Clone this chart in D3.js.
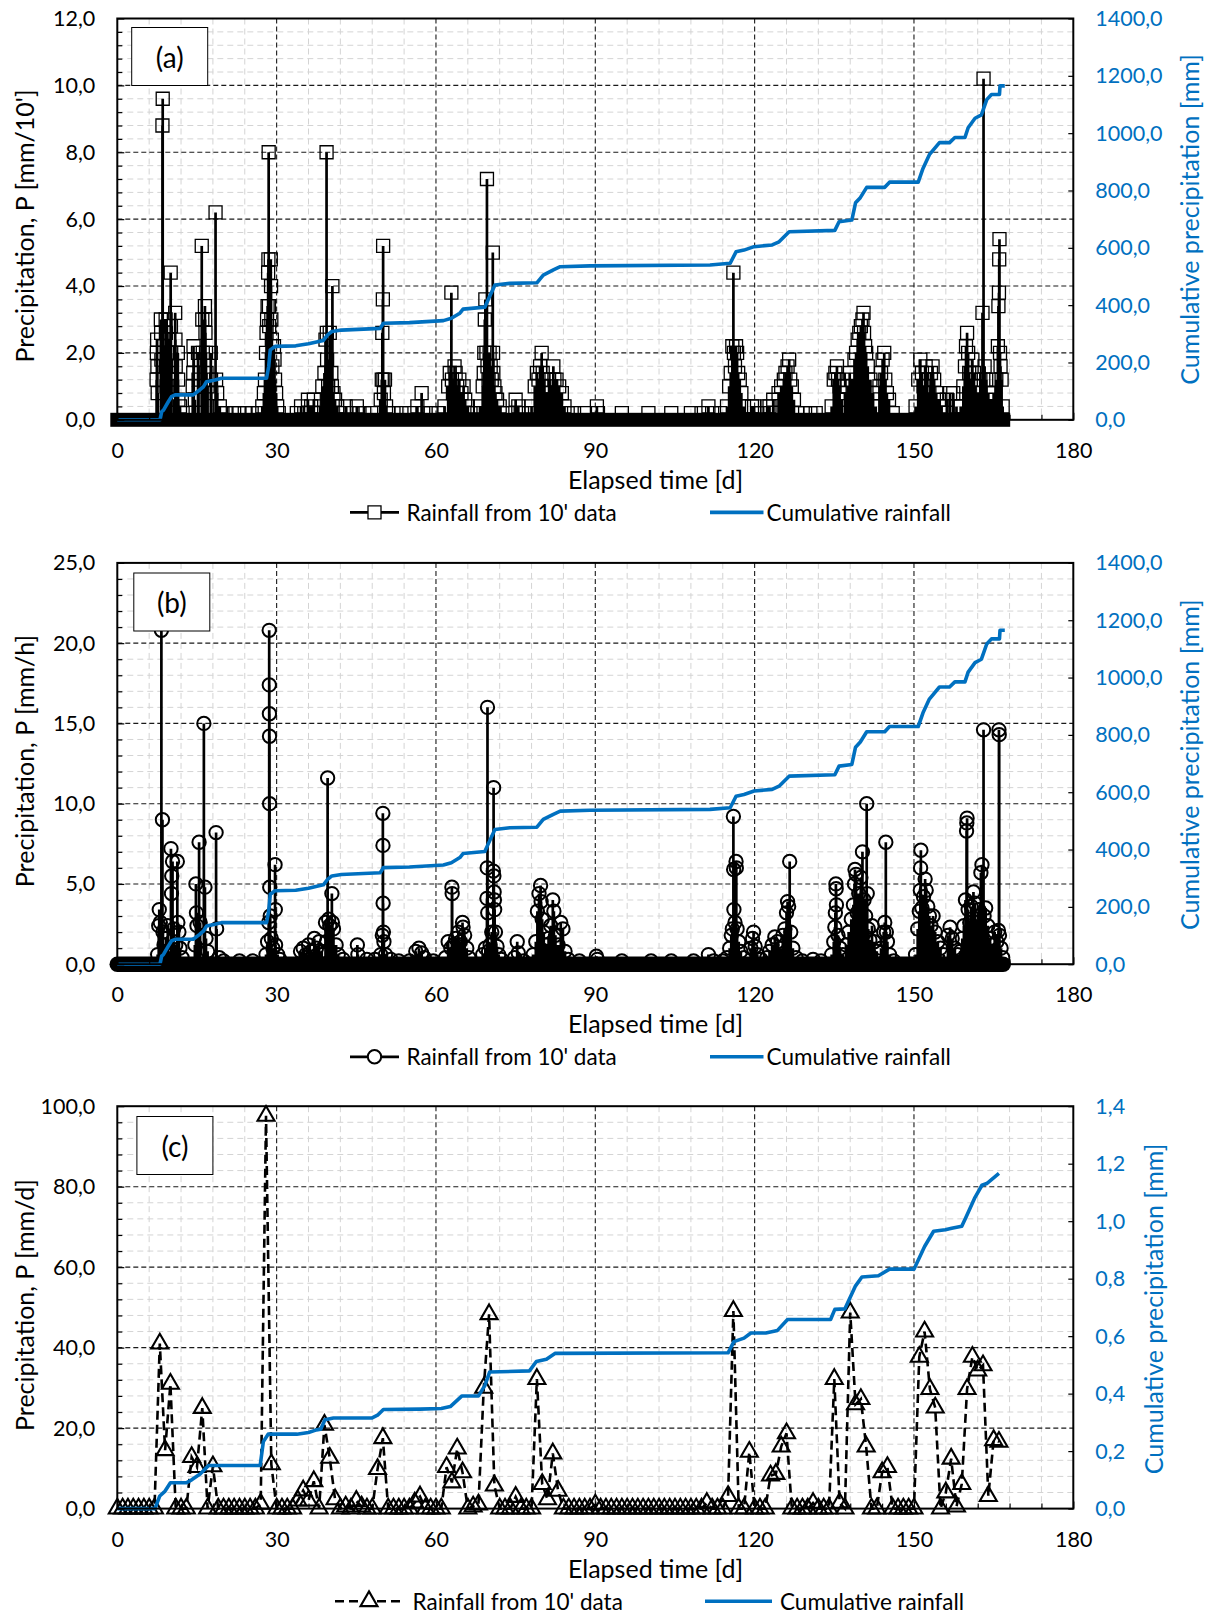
<!DOCTYPE html>
<html><head><meta charset="utf-8">
<script src="https://cdn.jsdelivr.net/npm/d3@7"></script>
<style>
body{margin:0;background:#fff;}
svg text{font-family:Lato,'Open Sans',sans-serif;fill:#000;}
</style></head><body>
<script>
// ---------------- DATA ----------------
const xTicks = [0, 30, 60, 90, 120, 150, 180];
const xTitle = "Elapsed time [d]";
const panelLabels = ["(a)", "(b)", "(c)"];
const leftTitles = ["Precipitation, P [mm/10']", "Precipitation, P [mm/h]", "Precipitation, P [mm/d]"];
const rightTitle = "Cumulative precipitation [mm]";
const seriesNames = ["Rainfall from 10' data", "Cumulative rainfall"];
const leftTicksA = [0, 2, 4, 6, 8, 10, 12];
const leftTicksB = [0, 5, 10, 15, 20, 25];
const leftTicksC = [0, 20, 40, 60, 80, 100];
const rightTicksAB = [0, 200, 400, 600, 800, 1000, 1200, 1400];
const rightTicksC = [0, 0.2, 0.4, 0.6, 0.8, 1.0, 1.2, 1.4];
// span of the 10-minute record [day]; every reading with zero rain sits on the baseline
const recordSpan = [0, 166.8];

// (a) non-zero 10-minute readings [day, mm/10']
const rain10min = [
[7.4,1.2],[7.45,2.0],[7.5,2.4],[7.55,1.6],[7.6,0.8],[8.2,3.0],[8.25,2.6],[8.3,1.8],[8.5,8.8],[8.55,9.6],[8.6,2.2],
[9.1,3.0],[9.15,2.6],[9.2,1.6],[9.3,1.0],[9.35,2.0],[9.6,2.4],[9.7,1.4],[10.05,4.4],[10.1,2.8],[10.15,2.0],[10.2,1.2],
[10.9,3.2],[10.95,2.4],[11.0,1.6],[11.4,2.0],[11.45,1.2],[11.5,0.6],[11.8,0.4],[12.3,0.2],
[14.2,1.0],[14.3,1.4],[14.35,2.2],[14.4,1.8],[14.6,0.6],[15.2,2.0],[15.3,1.2],[15.9,5.2],[16.0,3.0],[16.1,2.0],
[16.5,3.4],[16.55,3.0],[16.6,2.6],[16.7,2.0],[16.8,1.4],[17.0,1.0],[17.6,2.0],[17.65,1.2],[17.7,0.8],
[18.5,6.2],[18.6,1.2],[18.8,0.8],[19.3,0.4],[19.8,0.2],[20.4,0.2],
[22.0,0.2],[23.0,0.2],[24.0,0.2],[25.3,0.2],[26.6,0.2],
[27.3,0.4],[27.6,0.8],[27.8,1.2],[28.0,2.0],[28.1,2.6],[28.2,3.0],[28.3,3.4],[28.4,4.4],[28.45,4.8],[28.5,8.0],[28.55,3.4],[28.6,2.8],
[28.9,4.8],[28.95,4.0],[29.0,3.0],[29.1,2.4],[29.2,1.6],[29.5,2.2],[29.6,1.8],[29.7,1.2],[29.9,0.8],[30.1,0.4],[30.4,0.2],
[33.8,0.2],[34.6,0.4],[35.2,0.2],[35.9,0.6],[36.5,0.4],[37.0,0.6],[37.4,0.2],[38.2,0.4],[38.6,1.0],
[39.0,1.4],[39.2,2.4],[39.4,8.0],[39.45,2.6],[39.5,1.8],[39.7,1.0],[40.0,2.6],[40.5,4.0],[40.3,1.4],[40.4,1.0],[40.7,0.8],[41.0,0.6],[41.4,0.4],[42.0,0.2],
[43.0,0.4],[44.3,0.2],[45.1,0.4],[45.6,0.2],[46.5,0.2],[47.8,0.2],
[49.6,0.6],[49.8,1.2],[49.9,2.6],[50.0,3.6],[50.05,5.2],[50.1,1.2],[50.2,0.8],[50.4,1.2],[50.6,0.4],[51.0,0.2],[52.0,0.2],[53.5,0.2],[55.0,0.2],[56.5,0.4],[57.3,0.8],[57.6,0.2],[59.0,0.2],[60.5,0.2],
[61.6,0.4],[62.3,1.0],[62.6,1.4],[62.9,3.8],[63.0,1.2],[63.2,0.8],[63.5,1.6],[63.7,1.4],[64.0,1.0],[64.4,1.2],[64.8,0.8],[65.2,1.0],[65.5,0.6],[66.0,0.4],[66.5,0.2],
[67.8,0.2],[68.3,0.4],[68.8,1.0],[69.0,1.4],[69.1,2.0],[69.2,3.0],[69.3,3.6],[69.5,2.0],[69.6,7.2],[69.7,1.6],[69.9,1.2],[70.1,2.0],[70.3,1.6],[70.5,1.2],
[70.7,5.0],[70.75,2.0],[70.8,1.4],[71.0,1.0],[71.2,0.8],[71.5,0.6],[72.0,0.4],[72.5,0.2],
[73.5,0.2],[75.0,0.6],[75.5,0.4],[76.2,0.2],[77.5,0.2],
[78.0,0.4],[78.6,1.0],[79.0,1.4],[79.3,1.2],[79.6,1.6],[79.9,2.0],[80.1,1.4],[80.4,1.0],[80.8,0.8],[81.3,1.2],[81.7,1.0],[82.1,1.6],[82.3,1.2],[82.7,1.2],[83.2,1.0],[83.7,0.8],[84.2,0.4],[84.8,0.2],
[86.0,0.2],[88.0,0.2],[90.3,0.4],[90.5,0.2],[95.0,0.2],[100.0,0.2],[104.3,0.2],[108.0,0.2],[110.0,0.2],[111.3,0.4],[112.0,0.2],[113.5,0.2],
[114.8,0.4],[115.2,1.0],[115.5,1.4],[115.8,2.2],[116.0,4.4],[116.1,2.0],[116.3,1.6],[116.5,2.2],[116.7,2.0],[116.9,1.4],[117.2,1.2],[117.5,0.8],[118.0,0.4],
[119.5,0.4],[119.9,0.4],[120.5,0.2],[121.0,0.2],
[122.4,0.4],[122.8,0.4],[123.5,0.6],[124.5,0.8],[125.0,1.0],[125.5,1.2],[125.8,1.4],[126.2,1.6],[126.5,1.8],[126.7,1.2],[127.0,1.0],[127.4,0.6],[128.0,0.2],[129.5,0.2],[130.5,0.2],[131.5,0.2],
[134.5,0.4],[134.9,1.2],[135.2,1.4],[135.5,1.6],[135.7,1.2],[136.0,1.0],[136.4,0.6],[137.0,0.8],[137.5,1.0],[137.9,1.4],[138.3,1.2],[138.8,1.8],[139.1,2.0],[139.4,2.4],
[139.7,2.6],[140.0,2.8],[140.3,3.0],[140.5,3.2],[140.6,2.6],[140.8,2.2],[141.0,2.0],[141.3,1.6],[141.8,1.2],[142.3,0.8],[142.8,0.4],
[143.5,1.0],[143.8,1.4],[144.1,1.8],[144.4,2.0],[144.6,1.2],[144.9,0.8],[145.3,0.6],[146.0,0.2],
[150.3,0.4],[150.8,1.2],[151.2,1.8],[151.5,1.4],[151.8,1.0],[152.2,1.6],[152.5,1.2],[152.9,0.8],[153.2,1.4],[153.5,1.6],[153.8,1.2],[154.2,0.8],[154.7,0.6],[155.2,0.4],
[156.2,0.6],[156.8,0.8],[157.4,0.8],[158.0,0.4],
[158.8,0.4],[159.3,1.0],[159.6,1.6],[159.8,2.2],[160.0,2.6],[160.2,2.0],[160.4,1.4],[160.7,1.2],[161.0,1.8],[161.3,1.4],[161.6,1.0],[162.0,0.8],[162.5,1.2],
[162.9,3.2],[163.1,10.2],[163.3,1.6],[163.6,1.2],[164.0,0.8],[164.5,0.6],[165.0,0.8],[165.5,1.2],[165.8,2.2],[165.9,3.4],[166.0,3.8],[166.05,4.8],[166.1,5.4],
[166.2,2.0],[166.3,1.6],[166.5,1.2],[166.7,0.4]
];

// (b) non-zero hourly intensities from 10-minute data [day, mm/h]
const rainHourly = [
[7.6,0.6],[7.8,2.4],[7.9,3.4],[8.1,2.6],[8.3,20.8],[8.5,9.0],[8.6,2.0],[8.8,1.2],[9.2,1.6],[9.5,2.4],[9.8,0.8],[10.1,7.2],[10.2,4.4],[10.25,5.5],[10.4,6.4],
[10.6,2.2],[11.0,1.2],[11.3,6.4],[11.4,2.6],[11.6,2.0],[11.8,1.0],[12.2,0.4],
[14.6,1.2],[14.8,5.0],[14.9,3.2],[15.0,2.4],[15.4,7.6],[15.6,2.6],[16.3,15.0],[16.5,4.8],[16.7,1.6],[17.0,0.8],[18.6,8.2],[18.7,2.2],[19.2,0.4],[20.0,0.2],[23.0,0.2],[25.5,0.2],
[28.0,0.6],[28.3,1.4],[28.5,2.6],[28.6,20.8],[28.62,17.4],[28.64,15.6],[28.66,14.2],[28.68,10.0],[28.7,4.8],[28.8,3.0],[29.0,1.6],[29.3,1.0],[29.7,6.2],[29.75,3.4],[29.8,1.2],[30.2,0.6],[30.6,0.3],
[34.5,0.8],[35.0,1.0],[35.5,0.6],[36.0,1.2],[36.5,0.8],[37.1,1.6],[37.5,1.0],[38.0,1.4],[38.5,0.8],
[39.2,2.6],[39.4,1.4],[39.6,11.6],[39.8,2.8],[40.0,2.4],[40.4,4.4],[40.5,2.6],[40.7,2.2],[41.2,1.2],[41.6,0.6],[42.5,0.3],[45.2,1.2],[45.3,0.6],[47.0,0.3],[48.5,0.3],
[49.6,0.6],[49.9,1.8],[50.0,9.4],[50.02,7.4],[50.05,3.8],[50.1,2.0],[50.2,1.4],[50.5,0.6],[51.5,0.3],[53.0,0.2],[55.0,0.2],
[56.2,0.8],[56.8,1.0],[57.3,0.7],[57.8,0.4],[59.5,0.2],
[61.8,0.4],[62.3,1.4],[62.8,1.0],[63.0,4.8],[63.05,4.4],[63.3,1.2],[63.7,1.6],[64.2,2.0],[64.6,1.4],[65.0,2.6],[65.1,2.3],[65.4,1.8],[65.8,1.0],[66.2,0.4],
[68.8,0.6],[69.3,1.0],[69.6,4.1],[69.65,6.0],[69.7,16.0],[69.75,3.2],[69.9,0.8],[70.2,1.2],[70.5,2.0],[70.8,5.8],[70.85,11.0],[70.9,5.5],[70.95,4.5],[71.0,4.0],[71.05,3.4],[71.2,2.0],[71.5,1.1],[71.8,0.6],[72.3,0.3],
[74.8,0.4],[75.3,1.4],[75.5,0.7],[76.5,0.2],
[78.3,0.6],[78.8,1.4],[79.1,3.3],[79.4,4.4],[79.7,4.9],[79.8,3.9],[80.0,2.8],[80.3,2.0],[80.7,1.2],[81.2,1.6],[81.6,2.4],[82.0,4.0],[82.2,3.3],[82.5,1.8],[83.0,1.2],[83.5,2.6],[83.9,2.2],[84.3,0.8],[84.9,0.3],
[87.0,0.2],[90.2,0.5],[90.4,0.3],[95.0,0.2],[100.5,0.2],[104.3,0.2],[108.5,0.2],[111.3,0.6],[112.3,0.2],[114.0,0.2],
[114.8,0.4],[115.3,1.0],[115.6,1.8],[115.8,2.2],[116.0,9.2],[116.05,5.9],[116.1,3.4],[116.3,2.6],[116.5,6.4],[116.55,6.0],[116.7,2.2],[117.0,1.4],[117.4,0.8],[118.0,0.4],
[119.3,1.0],[119.6,1.6],[119.8,2.0],[120.1,1.1],[120.5,0.6],[121.2,0.3],
[122.3,0.4],[122.8,0.8],[123.3,1.2],[123.8,1.7],[124.3,1.4],[124.8,1.0],[125.3,1.8],[125.7,2.2],[126.0,3.2],[126.2,3.9],[126.4,3.6],[126.6,6.4],[126.8,2.0],[127.2,1.0],[127.8,0.4],[129.0,0.2],[131.0,0.3],[132.5,0.2],
[134.5,0.6],[134.9,1.4],[135.1,2.3],[135.2,3.2],[135.3,5.0],[135.35,4.7],[135.4,3.7],[135.7,1.8],[136.1,1.0],[136.6,0.6],[137.2,1.2],[137.7,2.0],[138.2,2.8],[138.6,3.7],[138.8,5.0],
[138.9,5.9],[139.1,5.6],[139.3,3.2],[139.6,4.4],[140.0,5.4],[140.3,7.0],[140.6,4.0],[140.9,3.0],[141.1,10.0],[141.2,4.4],[141.4,2.2],[141.7,1.5],[142.1,2.4],[142.5,1.4],[143.0,0.8],
[143.8,1.0],[144.3,2.0],[144.5,2.6],[144.7,7.6],[144.8,2.0],[145.0,1.4],[145.4,0.6],[146.2,0.2],
[150.3,0.6],[150.7,2.2],[151.0,3.3],[151.2,4.6],[151.25,6.0],[151.3,7.1],[151.5,3.5],[151.8,4.2],[152.1,5.3],[152.3,4.6],[152.6,3.6],[152.9,3.0],[153.2,2.4],[153.6,3.0],[154.0,2.0],
[154.5,1.4],[155.0,1.0],[155.6,0.6],[156.4,1.8],[156.8,2.3],[157.2,1.6],[157.7,1.0],[158.2,0.6],
[158.7,0.8],[159.1,1.6],[159.4,2.4],[159.7,4.0],[159.9,8.3],[159.95,8.8],[160.0,9.1],[160.2,3.4],[160.5,2.6],[160.8,3.6],[161.2,4.5],[161.5,3.8],[161.8,2.8],[162.2,3.4],[162.6,5.7],
[162.8,6.2],[163.1,14.6],[163.2,3.0],[163.5,3.5],[163.9,2.4],[164.3,1.6],[164.7,1.2],[165.2,2.0],[165.6,1.4],[165.9,2.1],[166.0,14.6],[166.05,14.3],[166.1,1.8],[166.4,1.0],[166.7,0.4]
];

// (c) daily totals, one value per day starting at day 0 [mm/d]
const rainDaily = [
0,0,0,0,0,0,0,0,41,14.5,
31,0,0,0,12.8,10.3,25,0,10.5,0,
0,0,0,0,0,0,0,1.2,97.6,11,
0,0,0,0,2.0,4.5,2.0,6.8,0,20.8,
12.6,2.3,0,0.5,0,1.9,0.5,0,0,9.8,
17.5,0,0,0,0,0,1.5,3.0,0,0,
0,0,10.3,6.5,14.9,9.0,0,0.5,1.0,30,
48.3,5.7,0,0,0,2.9,0,0,0,32.2,
6.1,2.3,13.7,4.4,0,0,0,0,0,0,
1.0,0,0,0,0,0,0,0,0,0,
0,0,0,0,0,0,0,0,0,0,
0,1.4,0,0,0,3.1,49.1,0,0,14.1,
0,0,0,8.2,8.6,15.4,18.7,0,0,0,
0,1.4,0,0,0,32.2,1.4,0,48.7,25.9,
27.2,15.4,0,0,9.0,10.3,0,0,0,0,
0,37.7,44,29.7,25.1,0,4,12.4,0.5,6.1,
29.7,37.7,34.3,35.6,3.1,17,16.6
];

// cumulative rainfall (a)/(b) [day, mm]
const cumulative10min = [
[0,0],[8.04,0],[8.35,28],[8.7,34],[9.6,63],[10.2,81],[10.9,87],[14.3,87],[15.5,104],[16.2,115],[16.8,133],[18.4,139],[19.6,145],
[28.1,145],[28.5,185],[28.8,244],[29.7,256],[33.6,258],[36,265],[38.8,277],[39.6,296],[40.4,308],[42.2,313],[49.5,319],[50.1,337],
[55,339],[61.4,346],[62.9,354],[64.5,372],[65.1,386],[69.2,393],[69.8,418],[71.1,470],[73.9,476],[79,478],[80.2,505],[82.1,523],
[83.4,534],[89,537],[111.6,540],[115.4,546],[116.5,586],[118,592],[119.9,604],[123.3,610],[124.6,621],[126.5,656],[135.1,661],
[135.9,691],[138.3,697],[139,757],[139.9,775],[141.1,811],[144.5,811],[145.4,829],[150.8,829],[151.7,877],[152.9,925],[154.8,967],
[156.7,967],[157.7,985],[159.6,985],[160.2,1019],[161.5,1052],[162.7,1064],[163.7,1117],[164.6,1135],[166.1,1135],[166.2,1165],[167.1,1165]
];
// cumulative rainfall [day, value on right axis]
const cumulativeDaily = [
[0,0],[7.1,0],[8,0.044],[9,0.061],[10,0.09],[13,0.09],[14,0.1],[15.6,0.12],[17.2,0.15],[26.9,0.15],[27.5,0.233],[28.4,0.259],
[33.8,0.259],[36,0.265],[37.5,0.274],[38.3,0.276],[39.1,0.309],[40.7,0.315],[47.9,0.315],[49,0.325],[50.1,0.345],[57,0.346],
[61,0.348],[62.7,0.355],[64.9,0.392],[68,0.392],[69.2,0.428],[70.1,0.475],[77.6,0.479],[78.9,0.512],[80.8,0.52],[82.4,0.54],
[115,0.542],[116.1,0.581],[118,0.593],[119.3,0.611],[122.1,0.611],[124.3,0.62],[126.2,0.658],[134.3,0.658],[135.1,0.693],
[137,0.695],[138,0.735],[139,0.775],[140.2,0.806],[143.3,0.81],[145.4,0.833],[150,0.833],[152,0.912],[153.7,0.965],[155.9,0.97],
[157.1,0.975],[159,0.982],[159.9,1.018],[161.5,1.083],[162.8,1.125],[163.7,1.131],[166,1.166]
];

// ---------------- DRAWING ----------------
const W = 1207, H = 1614;
const BLUE = "#0070C0";
const TICK_FS = 21.5, TITLE_FS = 25, LEGEND_FS = 22.5, BOX_FS = 28;
const comma = f => v => d3.format(f)(v).replace(".", ",");
const svg = d3.select("body").append("svg").attr("width", W).attr("height", H);

const X0 = 117.3, X1 = 1073.3;
const x = d3.scaleLinear().domain([0, 180]).range([X0, X1]);

const panels = [
  {top:18.5, bottom:419.8, lTicks:leftTicksA, lMinor:0.4, rTicks:rightTicksAB, lfmt:comma(".1f"), rfmt:comma(".1f"),
   box:[131.7,27.5], leftTitleY:226, rightTitleX:1188.5, rightTitleY:219.5, kind:"a"},
  {top:562.9, bottom:964.2, lTicks:leftTicksB, lMinor:1, rTicks:rightTicksAB, lfmt:comma(".1f"), rfmt:comma(".1f"),
   box:[133.8,573], leftTitleY:761, rightTitleX:1188.5, rightTitleY:764.6, kind:"b"},
  {top:1106.2, bottom:1508.6, lTicks:leftTicksC, lMinor:4, rTicks:rightTicksC, lfmt:comma(".1f"), rfmt:comma(".1f"),
   box:[136.9,1116.5], leftTitleY:1305, rightTitleX:1152.6, rightTitleY:1309, kind:"c"}
];

const TRI = d3.symbol(d3.symbolTriangle, 125);
const SQ = d3.symbol(d3.symbolSquare, 169);
const CIRC = d3.symbol(d3.symbolCircle, 140);

panels.forEach((p, i) => {
  const g = svg.append("g");
  const lMax = d3.max(p.lTicks), rMax = d3.max(p.rTicks);
  const y = d3.scaleLinear().domain([0, lMax]).range([p.bottom, p.top]);
  const r = d3.scaleLinear().domain([0, rMax]).range([p.bottom, p.top]);
  const lStep = p.lTicks[1] - p.lTicks[0];
  const yMinorVals = d3.range(0, lMax + 1e-9, p.lMinor).filter(v => Math.abs(v / lStep - Math.round(v / lStep)) > 1e-6);
  const xMinorVals = d3.range(0, 181, 6).filter(v => v % 30 !== 0);

  // minor grid
  const gm = g.append("g").attr("stroke", "#d4d4d4").attr("stroke-width", 1).attr("stroke-dasharray", "6,4");
  gm.selectAll("line.h").data(yMinorVals).join("line")
    .attr("x1", X0).attr("x2", X1).attr("y1", d => y(d)).attr("y2", d => y(d));
  gm.selectAll("line.v").data(xMinorVals).join("line")
    .attr("y1", p.top).attr("y2", p.bottom).attr("x1", d => x(d)).attr("x2", d => x(d));
  // major grid
  const gM = g.append("g").attr("stroke", "#1a1a1a").attr("stroke-width", 1.1).attr("stroke-dasharray", "5,3");
  gM.selectAll("line.h").data(p.lTicks.filter(v => v > 0 && v < lMax)).join("line")
    .attr("x1", X0).attr("x2", X1).attr("y1", d => y(d)).attr("y2", d => y(d));
  gM.selectAll("line.v").data(xTicks.filter(v => v > 0 && v < 180)).join("line")
    .attr("y1", p.top).attr("y2", p.bottom).attr("x1", d => x(d)).attr("x2", d => x(d));

  // data
  if (p.kind === "a" || p.kind === "b") {
    const pts = p.kind === "a" ? rain10min : rainHourly;
    // baseline band made by the zero readings' markers
    const half = p.kind === "a" ? 7 : 7.8;
    g.append("rect")
      .attr("x", x(recordSpan[0]) - half).attr("y", y(0) - half)
      .attr("width", x(recordSpan[1]) - x(recordSpan[0]) + 2 * half).attr("height", 2 * half)
      .attr("rx", p.kind === "b" ? half : 0).attr("fill", "#000");
    g.append("path")
      .attr("d", pts.map(([d, v]) => `M${x(d)},${y(0)}V${y(v)}`).join(""))
      .attr("stroke", "#000").attr("stroke-width", 2.7).attr("fill", "none");
    const sym = p.kind === "a" ? SQ : CIRC;
    g.append("g").selectAll("path").data(pts).join("path")
      .attr("d", sym).attr("transform", d => `translate(${x(d[0])},${y(d[1])})`)
      .attr("fill", "none").attr("stroke", "#000").attr("stroke-width", p.kind === "a" ? 1.3 : 2);
    g.append("path").datum(cumulative10min)
      .attr("d", d3.line().x(d => x(d[0])).y(d => r(d[1])))
      .attr("fill", "none").attr("stroke", BLUE).attr("stroke-width", 3.6).attr("stroke-linejoin", "round");
  } else {
    const pts = rainDaily.map((v, k) => [k, v]);
    g.append("path").datum(pts)
      .attr("d", d3.line().x(d => x(d[0])).y(d => y(d[1])))
      .attr("fill", "none").attr("stroke", "#000").attr("stroke-width", 2.6).attr("stroke-dasharray", "9,5");
    g.append("g").selectAll("path").data(pts).join("path")
      .attr("d", TRI).attr("transform", d => `translate(${x(d[0])},${y(d[1])})`)
      .attr("fill", "none").attr("stroke", "#000").attr("stroke-width", 2.1);
    g.append("path").datum(cumulativeDaily)
      .attr("d", d3.line().x(d => x(d[0])).y(d => r(d[1])))
      .attr("fill", "none").attr("stroke", BLUE).attr("stroke-width", 3.6).attr("stroke-linejoin", "round");
  }

  // frame
  g.append("rect").attr("x", X0).attr("y", p.top).attr("width", X1 - X0).attr("height", p.bottom - p.top)
    .attr("fill", "none").attr("stroke", "#000").attr("stroke-width", 2);

  // axes
  const styleAxis = a => { a.select(".domain").remove(); a.selectAll("line").attr("stroke", "#000").attr("stroke-width", 1.2); };
  g.append("g").attr("transform", `translate(${X0},0)`)
    .call(d3.axisLeft(y).tickValues(yMinorVals).tickSize(-5).tickFormat("")).call(styleAxis);
  g.append("g").attr("transform", `translate(${X0},0)`)
    .call(d3.axisLeft(y).tickValues(p.lTicks).tickSize(-7).tickPadding(22).tickFormat(p.lfmt)).call(styleAxis)
    .selectAll("text").attr("font-size", TICK_FS).attr("font-family", "Lato");
  g.append("g").attr("transform", `translate(${X1},0)`)
    .call(d3.axisRight(r).tickValues(p.rTicks).tickSize(-5).tickPadding(22).tickFormat(p.rfmt)).call(styleAxis)
    .selectAll("text").attr("font-size", TICK_FS).attr("font-family", "Lato").style("fill", BLUE);
  g.append("g").attr("transform", `translate(0,${p.bottom})`)
    .call(d3.axisBottom(x).tickValues(xMinorVals).tickSize(-5).tickFormat("")).call(styleAxis);
  g.append("g").attr("transform", `translate(0,${p.bottom})`)
    .call(d3.axisBottom(x).tickValues(xTicks).tickSize(-7).tickPadding(23).tickFormat(d3.format("d"))).call(styleAxis)
    .selectAll("text").attr("font-size", TICK_FS).attr("font-family", "Lato");

  // titles
  g.append("text").attr("x", 655.5).attr("y", p.bottom + 59).attr("text-anchor", "middle")
    .attr("dominant-baseline", "central").attr("font-size", TITLE_FS).text(xTitle);
  g.append("text").attr("transform", `translate(24,${p.leftTitleY}) rotate(-90)`).attr("text-anchor", "middle")
    .attr("dominant-baseline", "central").attr("font-size", TITLE_FS).text(leftTitles[i]);
  g.append("text").attr("transform", `translate(${p.rightTitleX},${p.rightTitleY}) rotate(-90)`).attr("text-anchor", "middle")
    .attr("dominant-baseline", "central").attr("font-size", TITLE_FS).style("fill", BLUE).text(rightTitle);

  // panel label box
  g.append("rect").attr("x", p.box[0]).attr("y", p.box[1]).attr("width", 76).attr("height", 58)
    .attr("fill", "#fff").attr("stroke", "#000").attr("stroke-width", 1);
  g.append("text").attr("x", p.box[0] + 38).attr("y", p.box[1] + 29).attr("text-anchor", "middle")
    .attr("dominant-baseline", "central").attr("font-size", BOX_FS).text(panelLabels[i]);

  // legend
  const ly = p.bottom + 92.6;
  const lg = g.append("g");
  if (p.kind === "c") {
    lg.append("line").attr("x1", 335).attr("x2", 403).attr("y1", ly).attr("y2", ly)
      .attr("stroke", "#000").attr("stroke-width", 2.6).attr("stroke-dasharray", "9,5");
    lg.append("path").attr("d", TRI).attr("transform", `translate(369,${ly})`)
      .attr("fill", "#fff").attr("stroke", "#000").attr("stroke-width", 2.1);
    lg.append("text").attr("x", 412.6).attr("y", ly).attr("dominant-baseline", "central").attr("font-size", LEGEND_FS).text(seriesNames[0]);
    lg.append("line").attr("x1", 705).attr("x2", 772).attr("y1", ly).attr("y2", ly).attr("stroke", BLUE).attr("stroke-width", 3.6);
    lg.append("text").attr("x", 780).attr("y", ly).attr("dominant-baseline", "central").attr("font-size", LEGEND_FS).text(seriesNames[1]);
  } else {
    lg.append("line").attr("x1", 350).attr("x2", 399).attr("y1", ly).attr("y2", ly).attr("stroke", "#000").attr("stroke-width", 2.7);
    lg.append("path").attr("d", p.kind === "a" ? SQ : CIRC)
      .attr("transform", `translate(374.5,${ly})`)
      .attr("fill", "#fff").attr("stroke", "#000").attr("stroke-width", p.kind === "a" ? 1.3 : 2);
    lg.append("text").attr("x", 406.5).attr("y", ly).attr("dominant-baseline", "central").attr("font-size", LEGEND_FS).text(seriesNames[0]);
    lg.append("line").attr("x1", 710).attr("x2", 763.5).attr("y1", ly).attr("y2", ly).attr("stroke", BLUE).attr("stroke-width", 3.6);
    lg.append("text").attr("x", 766.6).attr("y", ly).attr("dominant-baseline", "central").attr("font-size", LEGEND_FS).text(seriesNames[1]);
  }
});
</script>
</body></html>
